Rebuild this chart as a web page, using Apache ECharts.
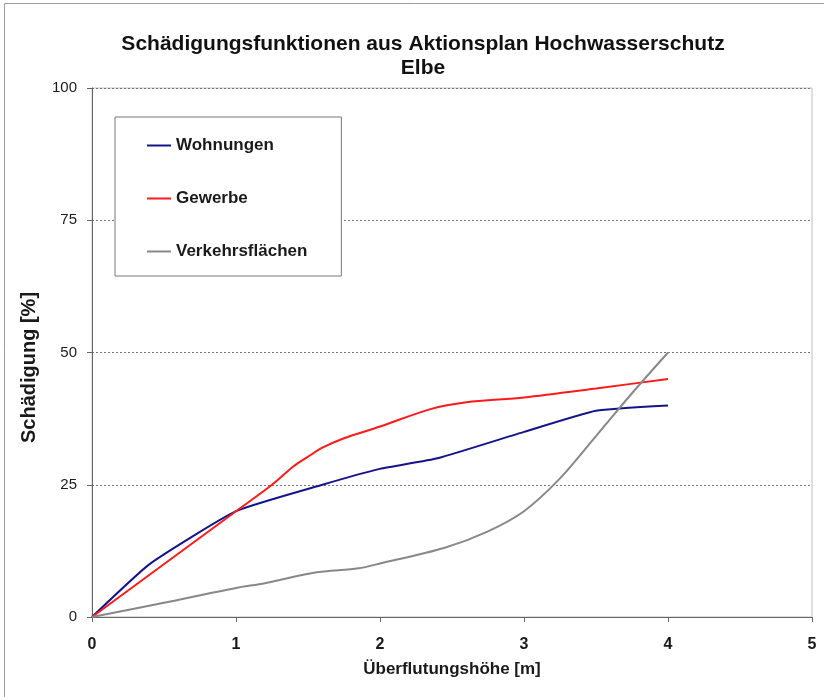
<!DOCTYPE html>
<html>
<head>
<meta charset="utf-8">
<script src="https://cdn.jsdelivr.net/npm/echarts@6/dist/echarts.min.js"></script>
<style>html,body{margin:0;padding:0;background:#fff}#c{width:824px;height:697px}</style>
</head>
<body>
<div id="c"></div>
<script>
const titleText = "Schädigungsfunktionen aus Aktionsplan Hochwasserschutz\nElbe";
const xName = "Überflutungshöhe [m]";
const yName = "Schädigung [%]";
const seriesNames = ["Wohnungen", "Gewerbe", "Verkehrsflächen"];
const wohnungenX = [0, 0.4, 1, 1.6, 2, 2.4, 3, 3.5, 4];
const wohnungenY = [0, 10, 20, 25, 28, 30, 35, 39, 40];
const gewerbeX = [0, 1, 1.25, 1.4, 1.5, 1.6, 1.75, 2, 2.35, 2.6, 3, 3.5, 4];
const gewerbeY = [0, 20, 25, 28.5, 30.3, 32, 33.8, 36, 39.3, 40.6, 41.5, 43.2, 45];
const verkehrX = [0, 0.5, 1, 1.2, 1.55, 1.85, 2, 2.45, 2.75, 3, 3.25, 3.5, 3.75, 4];
const verkehrY = [0, 2.7, 5.5, 6.4, 8.4, 9.2, 10.1, 13.1, 16.2, 20, 26.2, 34.2, 42.3, 50];
const yTicks = [0, 25, 50, 75, 100];

const zip = (xs, ys) => xs.map((x, i) => [x, ys[i]]);
const chart = echarts.init(document.getElementById('c'), null, {renderer: 'canvas'});
const font = 'Liberation Sans, Arial, sans-serif';
chart.setOption({
  animation: false,
  backgroundColor: '#fff',
  graphic: [{
    type: 'rect', shape: {x: 4.5, y: 3.5, width: 840, height: 720},
    style: {fill: 'none', stroke: '#9a9a9a', lineWidth: 1}, silent: true, z: -10
  }],
  title: {
    text: titleText, left: 418, top: 27, textAlign: 'center',
    textStyle: {fontFamily: font, fontSize: 21, fontWeight: 'bold', color: '#111', lineHeight: 24}
  },
  legend: {
    orient: 'vertical', left: 115, top: 117,
    data: seriesNames,
    icon: 'rect', itemWidth: 24, itemHeight: 2, itemGap: 36,
    padding: [20, 34, 16, 32],
    borderColor: '#777', borderWidth: 1, backgroundColor: '#fff',
    textStyle: {fontFamily: font, fontSize: 17, fontWeight: 'bold', color: '#1a1a1a', lineHeight: 17}
  },
  grid: {left: 92, right: 12, top: 88, bottom: 80, show: true, borderColor: '#c0c0c0', borderWidth: 1},
  xAxis: {
    type: 'value', min: 0, max: 5, interval: 1,
    name: xName, nameLocation: 'middle', nameGap: 44,
    nameTextStyle: {fontFamily: font, fontSize: 17, fontWeight: 'bold', color: '#1a1a1a'},
    axisLine: {lineStyle: {color: '#666', width: 1}},
    axisTick: {show: true, length: 5, lineStyle: {color: '#666'}},
    axisLabel: {fontFamily: font, fontSize: 16, fontWeight: 'bold', color: '#1a1a1a', margin: 20},
    splitLine: {show: false}
  },
  yAxis: {
    type: 'value', min: 0, max: 100, interval: 25,
    name: yName, nameLocation: 'middle', nameGap: 53, nameRotate: 90,
    nameTextStyle: {fontFamily: font, fontSize: 20, fontWeight: 'bold', color: '#1a1a1a', padding: [0, 30, 0, 0]},
    axisLine: {show: true, lineStyle: {color: '#666', width: 1}},
    axisTick: {show: true, length: 5, lineStyle: {color: '#666'}},
    axisLabel: {fontFamily: font, fontSize: 15, color: '#1a1a1a', margin: 15,
      formatter: v => yTicks.includes(v) ? String(v) : ''},
    splitLine: {show: true, lineStyle: {color: '#777', type: [2, 2], width: 1}}
  },
  series: [
    {name: seriesNames[0], type: 'line', data: zip(wohnungenX, wohnungenY), showSymbol: false, smooth: 0.15,
      lineStyle: {color: '#14148a', width: 2}, itemStyle: {color: '#14148a'}},
    {name: seriesNames[1], type: 'line', data: zip(gewerbeX, gewerbeY), showSymbol: false, smooth: 0.3,
      lineStyle: {color: '#ff1a1a', width: 2}, itemStyle: {color: '#ff1a1a'}},
    {name: seriesNames[2], type: 'line', data: zip(verkehrX, verkehrY), showSymbol: false, smooth: 0.3,
      lineStyle: {color: '#888888', width: 2}, itemStyle: {color: '#888888'}}
  ]
});
</script>
</body>
</html>
